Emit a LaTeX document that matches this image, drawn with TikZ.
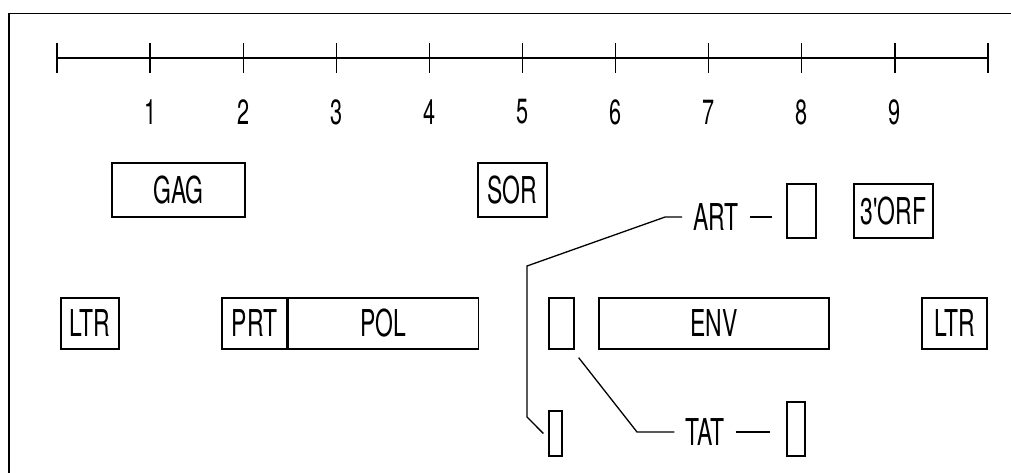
\documentclass[tikz,border=0pt]{standalone}
\usepackage{fontspec}
\newfontfamily\plotfont{TeX Gyre Heros}[FakeStretch=0.62]
\usetikzlibrary{positioning}

\begin{document}
\begin{tikzpicture}[
  x=1pt, y=-1pt,
  gene/.style={draw, line width=1.3pt, inner sep=0pt, minimum height=54pt,
    font=\plotfont\fontsize{37}{40}\selectfont},
  tag/.style={inner sep=11pt, font=\plotfont\fontsize{37}{40}\selectfont},
  wire/.style={line width=1.3pt}
]
\useasboundingbox (0,0) rectangle (1011,473);
\draw[line width=1.8pt] (9,473) -- (9,13.5) -- (1011,13.5);

% scale bar
\draw[wire] (57,58) -- (988,58);
\foreach \i in {0,...,10}
  \draw[wire] (57+93.1*\i,43) -- (57+93.1*\i,73);
\foreach \i in {1,...,9}
  \node[font=\plotfont\fontsize{35}{38}\selectfont] (n\i) at (57+93.1*\i,112) {\i};

% genome
\node[gene, minimum width=133pt] (gag) at (178.5,190) {GAG};
\node[gene, minimum width=69pt] (sor) at (512.5,190) {SOR};
\node[gene, minimum width=29pt] (artbox) at (801.5,211) {};
\node[gene, minimum width=79pt] (orf) at (893.5,211) {3'ORF};
\node[gene, minimum width=58pt, minimum height=51pt] (ltrL) at (90,323.5) {LTR};
\node[gene, minimum width=65pt, minimum height=51pt] (prt) at (254.5,323.5) {PRT};
\node[gene, minimum width=190pt, minimum height=51pt, right=0pt of prt] (pol) {POL};
\node[gene, minimum width=25pt, minimum height=51pt] (exon) at (561.5,323.5) {};
\node[gene, minimum width=230pt, minimum height=51pt] (env) at (714,323.5) {ENV};
\node[gene, minimum width=65pt, minimum height=51pt] (ltrR) at (954.5,323.5) {LTR};
\node[gene, minimum width=18pt] (tatbox) at (796,429) {};
\node[gene, minimum width=13pt, minimum height=45pt] (tiny) at (555.5,433.5) {};

\node[tag] (art) at (716,217) {ART};
\node[tag] (tat) at (705,432) {TAT};

\draw[wire] (art.west) -- ++(-17,0) -- (527,266) -- (527,417) -- ([xshift=-5pt]tiny.west);
\draw[wire, shorten >=14pt] (art.east) -- (art.east -| artbox.west);
\draw[wire] ([shift={(4,8)}]exon.south east) -- (637,432) -- (tat.west);
\draw[wire, shorten >=16pt] (tat.east) -- (tat.east -| tatbox.west);
\end{tikzpicture}
\end{document}
